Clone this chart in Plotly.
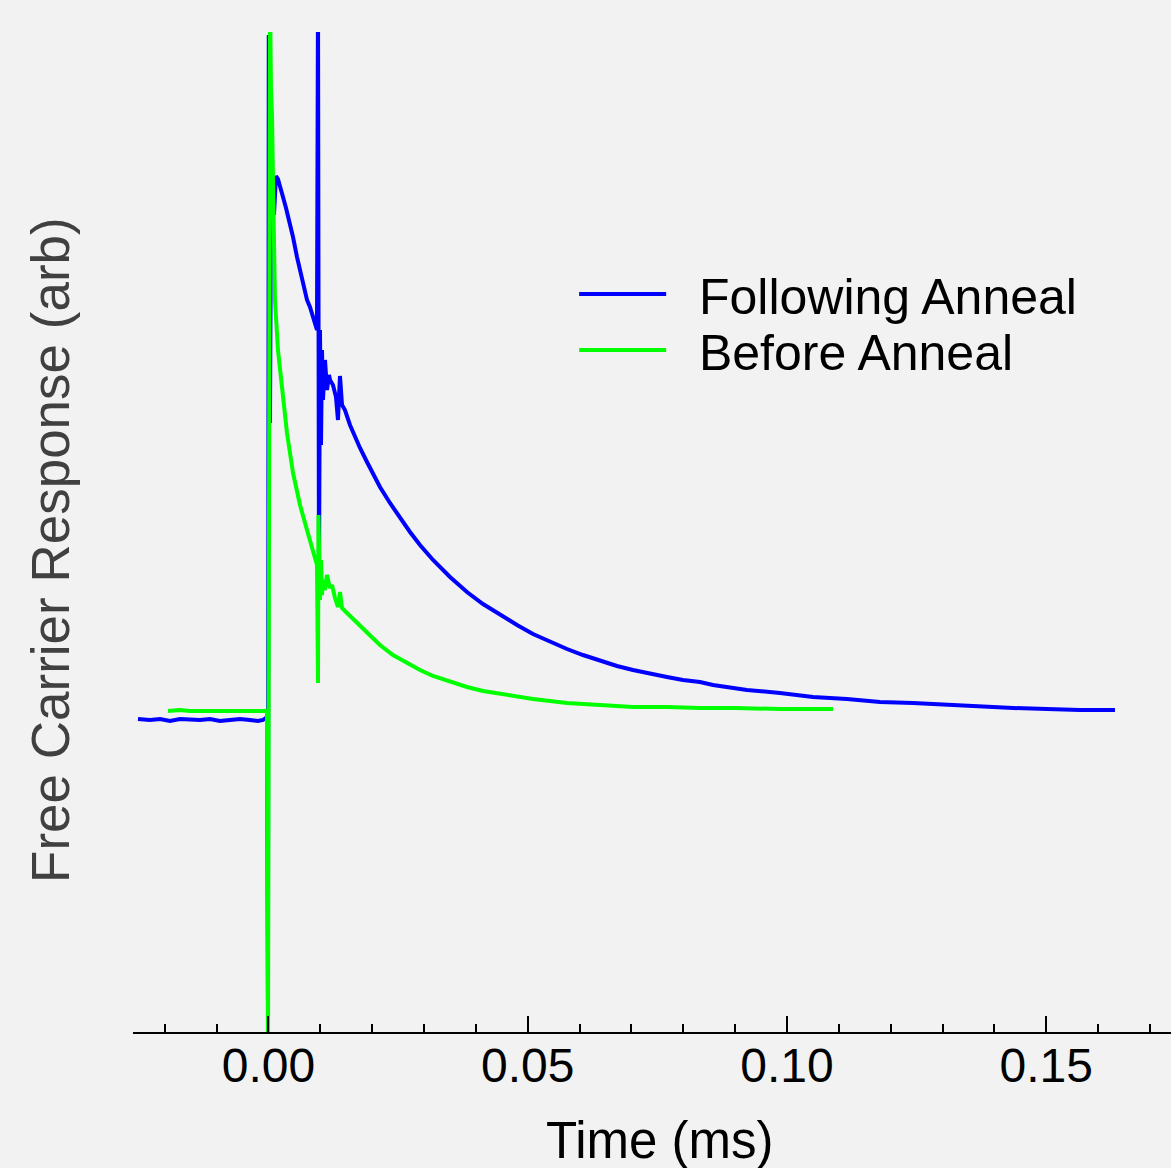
import plotly.graph_objects as go

# ---- data (time in ms, response in arbitrary units) ----
t_following = [
    -0.02517, -0.02285, -0.02092, -0.01899, -0.01707, -0.01514, -0.01321, -0.01128,
    -0.00936, -0.00743, -0.00550, -0.00357, -0.00203, -0.00106, -0.00048, -0.00029,
    -0.00010, 0.00005, 0.00029, 0.00048, 0.00068, 0.00087, 0.00106, 0.00125,
    0.00145, 0.00183, 0.00222, 0.00280, 0.00338, 0.00415, 0.00473, 0.00550,
    0.00608, 0.00665, 0.00743, 0.00800, 0.00858, 0.00916, 0.00935, 0.00955,
    0.00974, 0.00993, 0.01013, 0.01032, 0.01051, 0.01090, 0.01128, 0.01167,
    0.01186, 0.01244, 0.01302, 0.01340, 0.01379, 0.01418, 0.01475, 0.01572,
    0.01668, 0.01765, 0.01900, 0.02015, 0.02150, 0.02343, 0.02536, 0.02729,
    0.02922, 0.03173, 0.03501, 0.03828, 0.04137, 0.04465, 0.04793, 0.05101,
    0.05429, 0.05757, 0.06065, 0.06393, 0.06721, 0.07029, 0.07357, 0.07685,
    0.07994, 0.08322, 0.08573, 0.09228, 0.09865, 0.10501, 0.11157, 0.11794,
    0.12430, 0.13086, 0.13722, 0.14359, 0.15014, 0.15651, 0.16326,
]
y_following = [
    -0.04, -0.05, -0.04, -0.06, -0.04, -0.05, -0.05, -0.04,
    -0.06, -0.05, -0.04, -0.05, -0.06, -0.05, -0.03, -0.02,
    -2.85, 6.80, 2.92, 5.15, 4.85, 5.35, 5.00, 5.30,
    5.39, 5.36, 5.27, 5.18, 5.07, 4.92, 4.78, 4.58,
    4.45, 4.32, 4.15, 4.08, 3.98, 3.90, 3.85, 7.20,
    1.32, 3.85, 2.70, 3.65, 3.15, 3.55, 3.25, 3.40,
    3.35, 3.30, 3.18, 2.95, 3.39, 3.10, 3.05, 2.90,
    2.78, 2.67, 2.53, 2.41, 2.28, 2.12, 1.97, 1.83,
    1.70, 1.55, 1.38, 1.23, 1.11, 1.00, 0.90, 0.81,
    0.73, 0.66, 0.60, 0.54, 0.49, 0.45, 0.42, 0.38,
    0.35, 0.33, 0.30, 0.25, 0.22, 0.18, 0.16, 0.13,
    0.12, 0.10, 0.08, 0.07, 0.06, 0.05, 0.05,
]

t_before = [
    -0.01938, -0.01707, -0.01514, -0.01321, -0.01128, -0.00936, -0.00743, -0.00550,
    -0.00357, -0.00203, -0.00068, -0.00029, -0.00010, 0.00010, 0.00029, 0.00048,
    0.00068, 0.00087, 0.00106, 0.00125, 0.00183, 0.00261, 0.00357, 0.00473,
    0.00608, 0.00743, 0.00897, 0.00935, 0.00955, 0.00964, 0.00993, 0.01013,
    0.01032, 0.01051, 0.01090, 0.01128, 0.01186, 0.01225, 0.01283, 0.01340,
    0.01379, 0.01418, 0.01514, 0.01707, 0.01900, 0.02150, 0.02401, 0.02671,
    0.02922, 0.03173, 0.03501, 0.03828, 0.04137, 0.04465, 0.05101, 0.05757,
    0.06393, 0.07029, 0.07685, 0.08322, 0.09000, 0.09865, 0.10887,
]
y_before = [
    0.04, 0.05, 0.04, 0.04, 0.05, 0.04, 0.04, 0.05,
    0.04, 0.04, 0.04, 0.04, -3.50, 7.20, 7.20, 6.27,
    6.00, 5.35, 4.65, 4.15, 3.65, 3.25, 2.82, 2.42,
    2.10, 1.85, 1.57, 1.50, 0.32, 2.00, 1.15, 1.55,
    1.20, 1.35, 1.25, 1.40, 1.27, 1.30, 1.17, 1.08,
    1.23, 1.07, 1.02, 0.92, 0.82, 0.70, 0.60, 0.52,
    0.45, 0.39, 0.33, 0.28, 0.24, 0.21, 0.16, 0.12,
    0.10, 0.08, 0.08, 0.07, 0.07, 0.06, 0.06,
]

series_names = ["Following Anneal", "Before Anneal"]
series_colors = ["#0000ff", "#00ff00"]

x_tick_vals = [0.0, 0.05, 0.10, 0.15]
x_tick_text = ["0.00", "0.05", "0.10", "0.15"]

FONT = "Liberation Sans, Arial, sans-serif"
NBSP = "\u00a0"

fig = go.Figure()
fig.add_trace(go.Scatter(x=t_following, y=y_following, mode="lines",
                         name=NBSP * 2 + series_names[0], legend="legend",
                         line=dict(color=series_colors[0], width=4)))
fig.add_trace(go.Scatter(x=t_before, y=y_before, mode="lines",
                         name=NBSP * 2 + series_names[1], legend="legend2",
                         line=dict(color=series_colors[1], width=4)))

legend_style = dict(xanchor="left", yanchor="middle",
                    bgcolor="rgba(0,0,0,0)", itemwidth=87,
                    font=dict(family=FONT, size=50, color="black"))

fig.update_layout(
    width=1171, height=1168,
    margin=dict(l=133, r=0, t=32, b=136),
    paper_bgcolor="#f2f2f2", plot_bgcolor="#f2f2f2",
    font=dict(family=FONT, size=48, color="black"),
    showlegend=True,
    legend=dict(x=0.425, y=0.738, **legend_style),
    legend2=dict(x=0.425, y=0.682, **legend_style),
    xaxis=dict(
        range=[-0.02613, 0.17406],
        tickmode="array", tickvals=x_tick_vals, ticktext=x_tick_text,
        ticks="inside", ticklen=16, tickwidth=2, tickcolor="black",
        ticklabelstandoff=-10,
        showline=True, linecolor="black", linewidth=2,
        showgrid=False, zeroline=False,
        tickfont=dict(family=FONT, size=48, color="black"),
        minor=dict(tickmode="linear", tick0=0, dtick=0.01, ticks="inside",
                   ticklen=8, tickwidth=2, tickcolor="black", showgrid=False),
    ),
    yaxis=dict(
        range=[-3.17, 6.83],
        showticklabels=False, showline=False, showgrid=False,
        zeroline=False, ticks="",
    ),
    annotations=[
        dict(text="Time (ms)", xref="paper", yref="paper",
             x=0.5077, y=-0.108, xanchor="center", yanchor="middle",
             showarrow=False, font=dict(family=FONT, size=51, color="black")),
        dict(text="Free Carrier Response (arb)", xref="paper", yref="paper",
             x=-0.080, y=0.482, xanchor="center", yanchor="middle",
             textangle=-90, showarrow=False,
             font=dict(family=FONT, size=53, color="#404040")),
    ],
)

fig.write_html("out.html",
               config={"displayModeBar": False},
               post_script="document.body.style.margin='0';"
                           "document.body.style.overflow='hidden';")
